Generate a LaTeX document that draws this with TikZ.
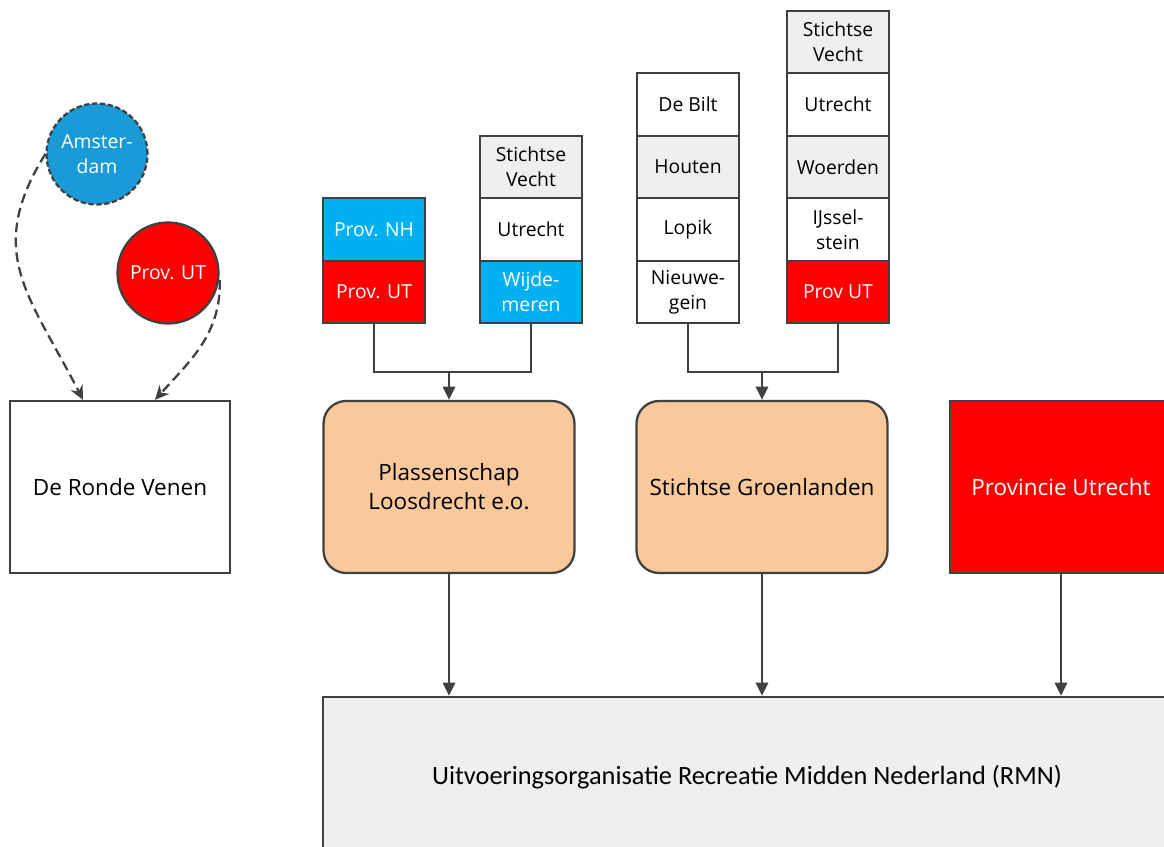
\documentclass[tikz,border=0pt]{standalone}
\usepackage{fontspec}
\setmainfont{Open Sans}
\newfontfamily\rmnfont{Carlito}
\usepackage{xcolor}
\usetikzlibrary{arrows.meta, positioning}

\definecolor{edgegray}{HTML}{404040}
\definecolor{cellgray}{HTML}{EFEFEF}
\definecolor{cellblue}{HTML}{00B0F0}
\definecolor{circblue}{HTML}{1A9BD7}
\definecolor{orgpeach}{HTML}{F9C89B}

\begin{document}
\begin{tikzpicture}[
    x=0.02cm, y=-0.02cm,
    node distance=0pt,
    cell/.style={rectangle, draw=edgegray, line width=1.3pt, outer sep=0pt, minimum width=2.04cm, minimum height=1.25cm, align=center, font=\fontsize{11}{14}\selectfont, inner sep=1pt},
    orgbox/.style={rectangle, draw=edgegray, line width=1.3pt, minimum width=4.4cm, minimum height=3.44cm, align=center, font=\fontsize{12.8}{16.5}\selectfont},
    roundbox/.style={orgbox, rounded corners=0.45cm, fill=orgpeach, minimum width=5.02cm},
    town/.style={circle, draw=edgegray, line width=1.3pt, minimum size=2.02cm, align=center, inner sep=1pt, text=white, font=\fontsize{11}{14}\selectfont},
    arrow/.style={-{Triangle[width=7pt,length=7.5pt]}, line width=1.3pt, draw=edgegray},
    link/.style={line width=1.3pt, draw=edgegray},
    dasharrow/.style={-{Stealth[width=7.5pt,length=8pt]}, line width=1.3pt, draw=edgegray, dash pattern=on 5.5pt off 3pt},
]
\useasboundingbox (0,0) rectangle (1164,847);
\clip (0,0) rectangle (1164,847);

% Municipality and province circles
\node[town, fill=circblue, dash pattern=on 3pt off 1.5pt] (ams) at (97,154) {Amster-\\dam};
\node[town, fill=red] (provut) at (168,273) {Prov. UT};

% Organisations
\node[orgbox] (ronde) at (120,487) {De Ronde Venen};
\node[roundbox] (plas) at (449,487) {Plassenschap\\Loosdrecht e.o.};
\node[roundbox] (groen) at (762,487) {Stichtse Groenlanden};
\node[orgbox, fill=red, text=white, minimum width=4.44cm] (provinc) at (1061,487) {Provincie Utrecht};

% Executive organisation
\node[rectangle, draw=edgegray, line width=1.3pt, fill=cellgray, minimum width=16.96cm, minimum height=3.2cm, font=\rmnfont\fontsize{15}{18}\selectfont] (rmn) at (747,777) {Uitvoeringsorganisatie Recreatie Midden Nederland (RMN)};

% Participants Plassenschap
\node[cell, fill=red, text=white] (pa-ut) at (374,292) {Prov. UT};
\node[cell, fill=cellblue, text=white, above=of pa-ut] (pa-nh) {Prov. NH};
\node[cell, fill=cellblue, text=white] (pb-wijd) at (531,292) {Wijde-\\meren};
\node[cell, above=of pb-wijd] (pb-utr) {Utrecht};
\node[cell, fill=cellgray, above=of pb-utr] (pb-sv) {Stichtse\\Vecht};

% Participants Stichtse Groenlanden
\node[cell] (gc-nieuw) at (688,292) {Nieuwe-\\gein};
\node[cell, above=of gc-nieuw] (gc-lopik) {Lopik};
\node[cell, fill=cellgray, above=of gc-lopik] (gc-hout) {Houten};
\node[cell, above=of gc-hout] (gc-bilt) {De Bilt};
\node[cell, fill=red, text=white] (gd-ut) at (838,292) {Prov UT};
\node[cell, above=of gd-ut] (gd-ijs) {IJssel-\\stein};
\node[cell, fill=cellgray, above=of gd-ijs] (gd-woer) {Woerden};
\node[cell, above=of gd-woer] (gd-utr) {Utrecht};
\node[cell, fill=cellgray, above=of gd-utr] (gd-sv) {Stichtse\\Vecht};

% Joins
\coordinate (joinp) at (449,372);
\coordinate (joing) at (762,372);
\draw[link] (pa-ut.south) |- (joinp) -| (pb-wijd.south);
\draw[link] (gc-nieuw.south) |- (joing) -| (gd-ut.south);
\draw[arrow] (joinp) -- (plas.north);
\draw[arrow] (joing) -- (groen.north);

% Arrows to RMN
\draw[arrow] (plas.south) -- (plas.south |- rmn.north);
\draw[arrow] (groen.south) -- (groen.south |- rmn.north);
\draw[arrow] (provinc.south) -- (provinc.south |- rmn.north);

% Dashed arrows to De Ronde Venen
\draw[dasharrow] (ams.west) to[out=238, in=117, looseness=1.2] ([xshift=-0.74cm]ronde.north);
\draw[dasharrow] ([yshift=-0.14cm]provut.east) to[out=-88, in=48] ([xshift=0.7cm]ronde.north);

\end{tikzpicture}
\end{document}
